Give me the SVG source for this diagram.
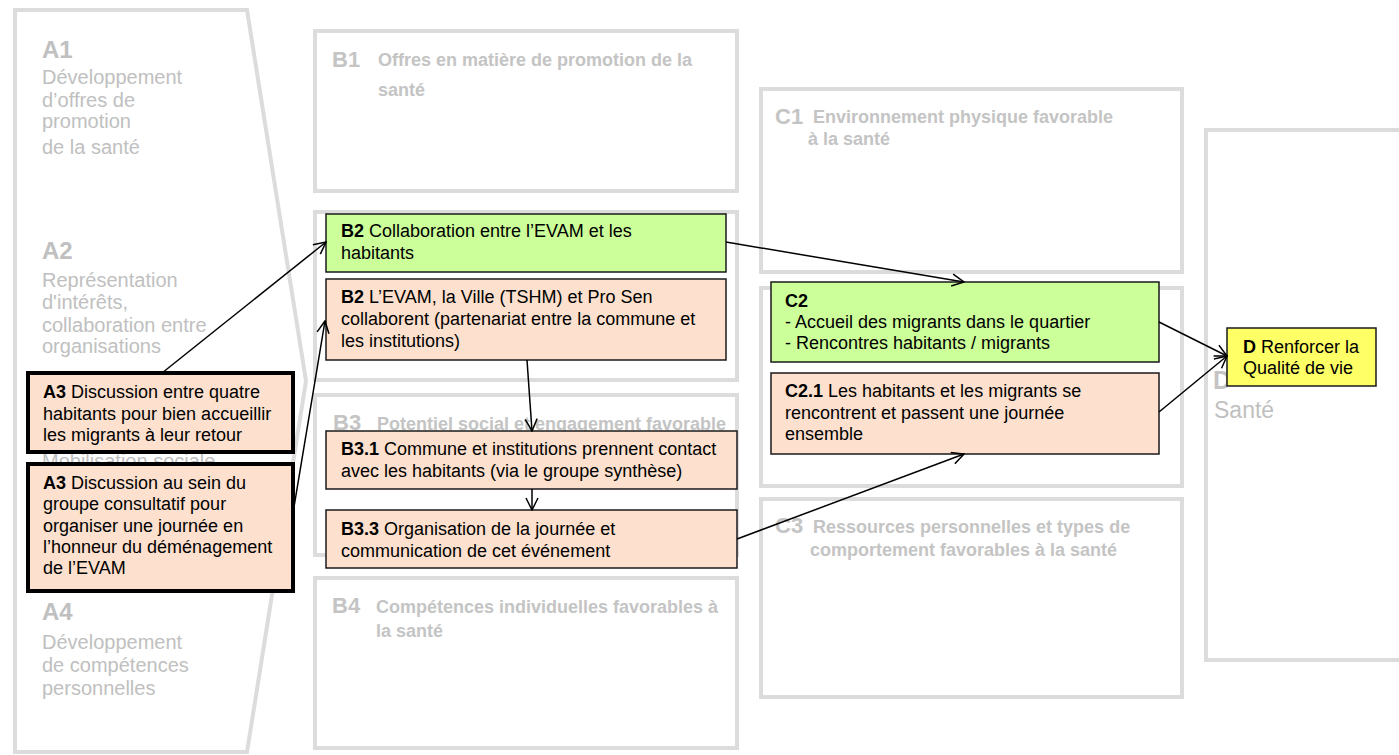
<svg xmlns="http://www.w3.org/2000/svg" width="1399" height="755" viewBox="0 0 1399 755">
<defs>
<style>
.frame{fill:#ffffff;stroke:#dcdcdc;stroke-width:4}
.atxt{font-family:"Liberation Sans",Arial,sans-serif;font-size:20px;fill:#c0c0c0}
.ahead{font-family:"Liberation Sans",Arial,sans-serif;font-size:24px;font-weight:bold;fill:#c0c0c0}
.bhead{font-family:"Liberation Sans",Arial,sans-serif;font-size:22px;font-weight:bold;fill:#c4c4c4}
.blab{font-family:"Liberation Sans",Arial,sans-serif;font-size:18px;font-weight:bold;fill:#c4c4c4}
.t{font-family:"Liberation Sans",Arial,sans-serif;font-size:18px;fill:#000000}
.b{font-weight:bold}
.green{fill:#ccff99;stroke:#1a1a1a;stroke-width:1.5}
.peach{fill:#fde0cd;stroke:#1a1a1a;stroke-width:1.5}
.peachbold{fill:#fde0cd;stroke:#000000;stroke-width:4}
.yellow{fill:#ffff66;stroke:#1a1a1a;stroke-width:1.5}
.conn{stroke:#000000;stroke-width:1.5;fill:none;marker-end:url(#arr)}
</style>
<marker id="arr" viewBox="0 0 14 14" refX="13" refY="7" markerWidth="14" markerHeight="14" markerUnits="userSpaceOnUse" orient="auto">
<path d="M1,1 L13,7 L1,13" fill="none" stroke="#000000" stroke-width="1.5"/>
</marker>
</defs>
<rect width="1399" height="755" fill="#ffffff"/>

<g id="columnA">
<polygon class="frame" points="15,10 247,10 306,381 247,752 15,752"/>
<text class="ahead" x="42" y="58">A1</text>
<text class="atxt" x="42" y="84">Développement</text>
<text class="atxt" x="42" y="107">d’offres de</text>
<text class="atxt" x="42" y="128">promotion</text>
<text class="atxt" x="42" y="154">de la santé</text>
<text class="ahead" x="42" y="259">A2</text>
<text class="atxt" x="42" y="287">Représentation</text>
<text class="atxt" x="42" y="309">d'intérêts,</text>
<text class="atxt" x="42" y="332">collaboration entre</text>
<text class="atxt" x="42" y="353">organisations</text>
<text class="atxt" x="42" y="468">Mobilisation sociale</text>
<text class="ahead" x="42" y="620">A4</text>
<text class="atxt" x="42" y="649">Développement</text>
<text class="atxt" x="42" y="672">de compétences</text>
<text class="atxt" x="42" y="695">personnelles</text>
</g>

<g id="columnB">
<rect class="frame" x="315" y="31" width="422" height="160"/>
<text class="bhead" x="332" y="67">B1</text>
<text class="blab" x="378" y="66">Offres en matière de promotion de la</text>
<text class="blab" x="378" y="96">santé</text>
<rect class="frame" x="315" y="212" width="422" height="168"/>
<rect class="frame" x="315" y="395" width="422" height="160"/>
<text class="bhead" x="333" y="430">B3</text>
<text class="blab" x="377" y="430">Potentiel social et engagement favorable</text>
<rect class="frame" x="315" y="578" width="422" height="170"/>
<text class="bhead" x="332" y="613">B4</text>
<text class="blab" x="376" y="613">Compétences individuelles favorables à</text>
<text class="blab" x="376" y="637">la santé</text>
</g>

<g id="columnC">
<rect class="frame" x="761" y="89" width="421" height="183"/>
<text class="bhead" x="775" y="124">C1</text>
<text class="blab" x="813" y="123">Environnement physique favorable</text>
<text class="blab" x="808" y="145">à la santé</text>
<rect class="frame" x="761" y="288" width="421" height="198"/>
<rect class="frame" x="761" y="499" width="421" height="198"/>
<text class="bhead" x="775" y="533">C3</text>
<text class="blab" x="813" y="533">Ressources personnelles et types de</text>
<text class="blab" x="810" y="556">comportement favorables à la santé</text>
</g>

<g id="columnD">
<rect class="frame" x="1206" y="130" width="230" height="530"/>
<text x="1213" y="389" font-family="Liberation Sans, Arial, sans-serif" font-size="25" font-weight="bold" fill="#c4c4c4">D</text>
<text x="1214" y="418" font-family="Liberation Sans, Arial, sans-serif" font-size="23" fill="#c0c0c0">Santé</text>
</g>

<g id="nodeA3a">
<rect class="peachbold" x="28" y="373" width="265" height="79"/>
<text class="t" x="43" y="398"><tspan class="b">A3</tspan> Discussion entre quatre</text>
<text class="t" x="43" y="420">habitants pour bien accueillir</text>
<text class="t" x="43" y="441">les migrants à leur retour</text>
</g>

<g id="nodeA3b">
<rect class="peachbold" x="28" y="464" width="265" height="127"/>
<text class="t" x="43" y="489"><tspan class="b">A3</tspan> Discussion au sein du</text>
<text class="t" x="43" y="510">groupe consultatif pour</text>
<text class="t" x="43" y="532">organiser une journée en</text>
<text class="t" x="43" y="553">l’honneur du déménagement</text>
<text class="t" x="43" y="574">de l’EVAM</text>
</g>

<g id="nodeB2a">
<rect class="green" x="326" y="214" width="400" height="58"/>
<text class="t" x="341" y="237"><tspan class="b">B2</tspan> Collaboration entre l’EVAM et les</text>
<text class="t" x="341" y="259">habitants</text>
</g>

<g id="nodeB2b">
<rect class="peach" x="326" y="279" width="400" height="81"/>
<text class="t" x="341" y="303"><tspan class="b">B2</tspan> L’EVAM, la Ville (TSHM) et Pro Sen</text>
<text class="t" x="341" y="325">collaborent (partenariat entre la commune et</text>
<text class="t" x="341" y="347">les institutions)</text>
</g>

<g id="nodeB31">
<rect class="peach" x="326" y="431" width="411" height="58"/>
<text class="t" x="341" y="455"><tspan class="b">B3.1</tspan> Commune et institutions prennent contact</text>
<text class="t" x="341" y="477">avec les habitants (via le groupe synthèse)</text>
</g>

<g id="nodeB33">
<rect class="peach" x="326" y="510" width="411" height="58"/>
<text class="t" x="341" y="535"><tspan class="b">B3.3</tspan> Organisation de la journée et</text>
<text class="t" x="341" y="557">communication de cet événement</text>
</g>

<g id="nodeC2">
<rect class="green" x="771" y="282" width="388" height="80"/>
<text class="t b" x="785" y="307">C2</text>
<text class="t" x="785" y="328">- Accueil des migrants dans le quartier</text>
<text class="t" x="785" y="349">- Rencontres habitants / migrants</text>
</g>

<g id="nodeC21">
<rect class="peach" x="771" y="373" width="388" height="81"/>
<text class="t" x="785" y="397"><tspan class="b">C2.1</tspan> Les habitants et les migrants se</text>
<text class="t" x="785" y="419">rencontrent et passent une journée</text>
<text class="t" x="785" y="440">ensemble</text>
</g>

<g id="nodeD">
<rect class="yellow" x="1227" y="328" width="149" height="58"/>
<text class="t" x="1243" y="353"><tspan class="b">D</tspan> Renforcer la</text>
<text class="t" x="1243" y="374">Qualité de vie</text>
</g>

<g id="connectors">
<line class="conn" x1="162" y1="373" x2="326" y2="242"/>
<line class="conn" x1="293" y1="513" x2="325" y2="321"/>
<line class="conn" x1="527" y1="360" x2="532" y2="431"/>
<line class="conn" x1="532" y1="489" x2="532" y2="510"/>
<line class="conn" x1="737" y1="539" x2="964" y2="454"/>
<line class="conn" x1="726" y1="242" x2="964" y2="282"/>
<line class="conn" x1="1159" y1="322" x2="1227" y2="356"/>
<line class="conn" x1="1159" y1="412" x2="1227" y2="356"/>
</g>
</svg>
